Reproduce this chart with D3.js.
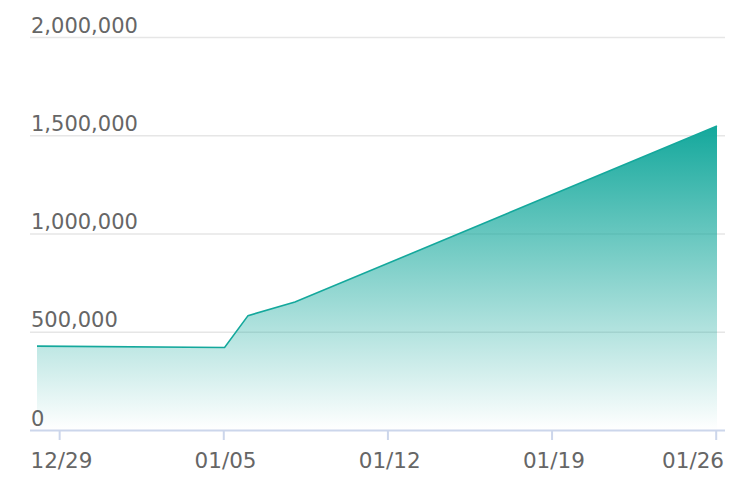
<!DOCTYPE html>
<html><head><meta charset="utf-8">
<script src="https://cdn.jsdelivr.net/npm/d3@7"></script>
<style>body{margin:0;background:#fff}svg{display:block}</style>
</head><body>
<svg id="c" width="754" height="500"></svg>
<script>
const dates = ["2019-12-28","2020-01-05","2020-01-06","2020-01-08","2020-01-26"];
const values = [427000, 420000, 582000, 651000, 1547000];
const xTicks = ["2019-12-29","2020-01-05","2020-01-12","2020-01-19","2020-01-26"];
const xTickLabels = ["12/29","01/05","01/12","01/19","01/26"];
const yTicks = [0, 500000, 1000000, 1500000, 2000000];

const parse = d3.utcParse("%Y-%m-%d");
const data = dates.map((d,i)=>({d:parse(d), v:values[i]}));
const svg = d3.select("#c");
const x = d3.scaleUtc().domain([parse("2019-12-28"), parse("2020-01-26")]).range([37, 717]);
const y = d3.scaleLinear().domain([0, 2000000]).range([430, 37]);
const left = 30, right = 725;
const font = "'DejaVu Sans', Verdana, sans-serif";

const defs = svg.append("defs");
const g = defs.append("linearGradient").attr("id","grad").attr("x1",0).attr("x2",0).attr("y1",0).attr("y2",1);
g.append("stop").attr("offset","0%").attr("stop-color","#14a89c").attr("stop-opacity",1);
g.append("stop").attr("offset","100%").attr("stop-color","#14a89c").attr("stop-opacity",0);

// grid
svg.append("g").selectAll("line").data(yTicks.slice(1)).join("line")
  .attr("x1",left).attr("x2",right).attr("y1",d=>y(d)+0.5).attr("y2",d=>y(d)+0.5)
  .attr("stroke","#e6e6e6").attr("stroke-width",1.5);

// area
svg.append("path").datum(data)
  .attr("d", d3.area().x(d=>x(d.d)).y0(y(0)).y1(d=>y(d.v)))
  .attr("fill","url(#grad)");
svg.append("path").datum(data)
  .attr("d", d3.line().x(d=>x(d.d)).y(d=>y(d.v)))
  .attr("fill","none").attr("stroke","#14a89c").attr("stroke-width",1.6);

// y labels
const fmt = d3.format(",");
svg.append("g").selectAll("text").data(yTicks).join("text")
  .attr("x",31).attr("y",d=>y(d)-4.5)
  .attr("font-family",font).attr("font-size","21px").attr("fill","#666")
  .text(d=>fmt(d));

// x axis
svg.append("line").attr("x1",left).attr("x2",right).attr("y1",430.5).attr("y2",430.5)
  .attr("stroke","#ccd6eb").attr("stroke-width",2);
const xt = xTicks.map(parse);
svg.append("g").selectAll("line").data(xt).join("line")
  .attr("x1",d=>x(d)-0.8).attr("x2",d=>x(d)-0.8)
  .attr("y1",430).attr("y2",440).attr("stroke","#ccd6eb").attr("stroke-width",2);
svg.append("g").selectAll("text").data(xt).join("text")
  .attr("x",(d,i)=> i===xt.length-1 ? 724 : x(d)+1)
  .attr("text-anchor",(d,i)=> i===xt.length-1 ? "end" : "middle")
  .attr("y",468)
  .attr("font-family",font).attr("font-size","21.5px").attr("fill","#666")
  .text((d,i)=>xTickLabels[i]);
</script>
</body></html>
